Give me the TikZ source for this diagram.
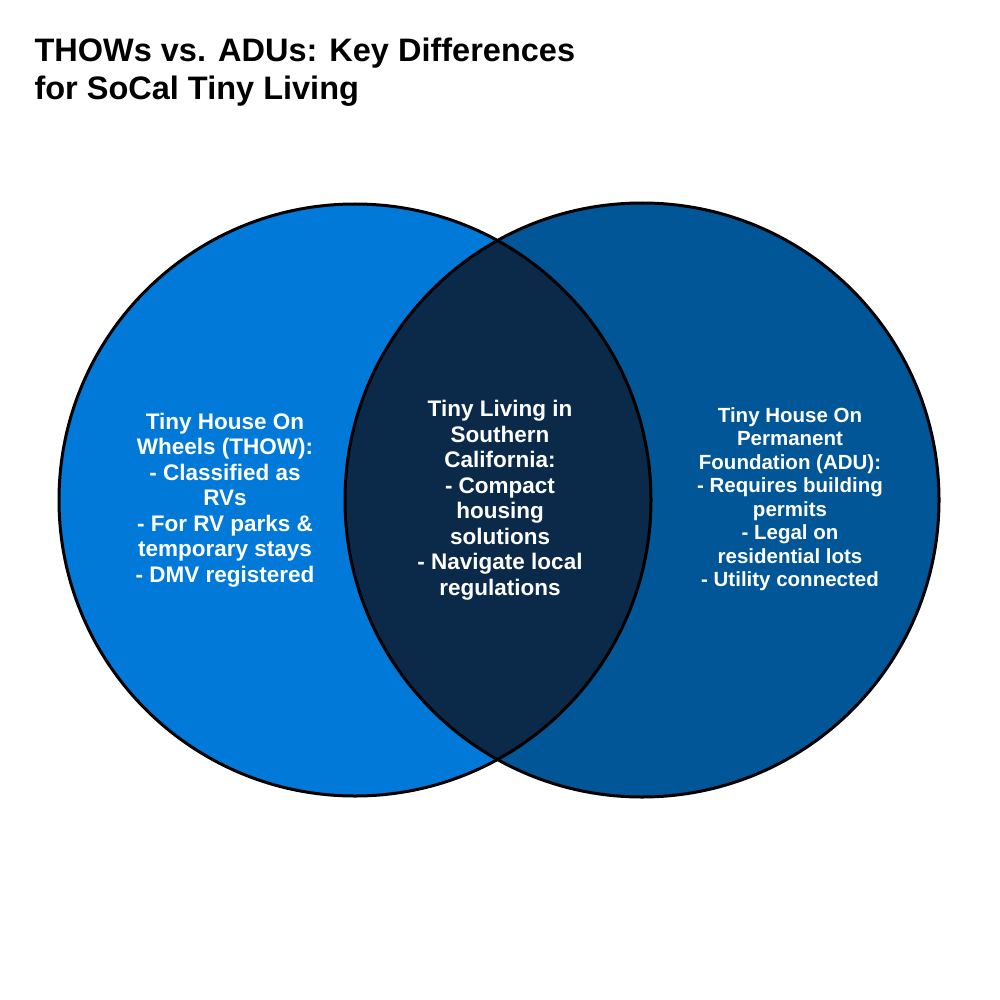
\documentclass[tikz,border=0pt]{standalone}
\usepackage{fontspec}
\setmainfont{Liberation Sans}
\definecolor{thowblue}{HTML}{0079D9}
\definecolor{adublue}{HTML}{005696}
\definecolor{lensblue}{HTML}{0B2A4A}
\tikzset{
  ring/.style={draw=black, line width=3pt},
  label/.style={text=white, font=\bfseries\fontsize{22.5}{25.5}\selectfont, align=center}
}
\begin{document}
\begin{tikzpicture}[x=1pt,y=-1pt]
\useasboundingbox (0,0) rectangle (1000,1000);
\node[anchor=north west, align=left, font=\bfseries\fontsize{32.5}{38}\selectfont] (title) at (31,34) {THOWs vs. ADUs: Key Differences\\for SoCal Tiny Living};
% circles and their overlap
\fill[thowblue] (355,500) circle (296);
\fill[adublue] (642,500) circle (297);
\begin{scope}
\clip (355,500) circle (296);
\fill[lensblue] (642,500) circle (297);
\end{scope}
\draw[ring] (355,500) circle (296);
\draw[ring] (642,500) circle (297);
\node[label] (thow) at (225,500) {Tiny House On\\Wheels (THOW):\\- Classified as\\RVs\\- For RV parks \&\\temporary stays\\- DMV registered};
\node[label] (both) at (500,500) {Tiny Living in\\Southern\\California:\\- Compact\\housing\\solutions\\- Navigate local\\regulations};
\node[label, font=\bfseries\fontsize{20.5}{23.5}\selectfont] (adu) at (790,499) {Tiny House On\\Permanent\\Foundation (ADU):\\- Requires building\\permits\\- Legal on\\residential lots\\- Utility connected};
\end{tikzpicture}
\end{document}
